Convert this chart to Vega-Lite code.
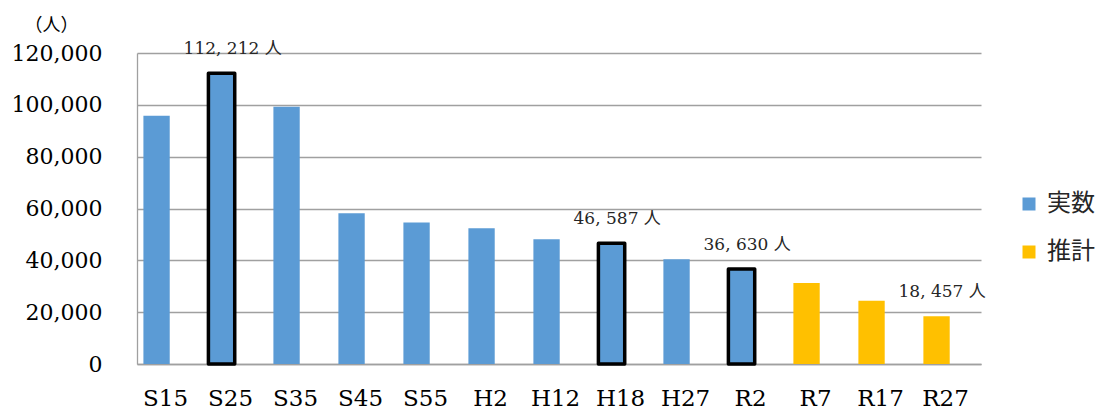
{
  "$schema": "https://vega.github.io/schema/vega-lite/v6.json",
  "autosize": {"type": "none"},
  "width": 844,
  "height": 311,
  "padding": {"left": 137, "top": 53, "right": 119, "bottom": 46},
  "background": "white",
  "config": {"view": {"stroke": null}},
  "data": {
    "values": [
      {"year": "S15", "value": 95800, "type": "実数"},
      {"year": "S25", "value": 112212, "type": "実数", "label": "112, 212 人"},
      {"year": "S35", "value": 99300, "type": "実数"},
      {"year": "S45", "value": 58200, "type": "実数"},
      {"year": "S55", "value": 54600, "type": "実数"},
      {"year": "H2", "value": 52400, "type": "実数"},
      {"year": "H12", "value": 48100, "type": "実数"},
      {"year": "H18", "value": 46587, "type": "実数", "label": "46, 587 人"},
      {"year": "H27", "value": 40400, "type": "実数"},
      {"year": "R2", "value": 36630, "type": "実数", "label": "36, 630 人"},
      {"year": "R7", "value": 31300, "type": "推計"},
      {"year": "R17", "value": 24400, "type": "推計"},
      {"year": "R27", "value": 18457, "type": "推計", "label": "18, 457 人"}
    ]
  },
  "encoding": {
    "x": {
      "field": "year",
      "type": "nominal",
      "sort": null,
      "scale": {"paddingInner": 0.595, "paddingOuter": 0.29, "align": 0.17},
      "axis": {
        "title": null,
        "labelAngle": 0,
        "ticks": false,
        "labelPadding": 41,
        "labelBaseline": "alphabetic",
        "labelOffset": 9,
        "labelFont": "DejaVu Serif",
        "labelFontSize": 23,
        "labelColor": "#000000",
        "domainColor": "#A0A0A0",
        "domainWidth": 1.3,
        "grid": false
      }
    },
    "y": {
      "field": "value",
      "type": "quantitative",
      "scale": {"domain": [0, 120000], "nice": false},
      "axis": {
        "values": [0, 20000, 40000, 60000, 80000, 100000, 120000],
        "format": ",.0f",
        "title": "（人）",
        "titleAngle": 0,
        "titleAlign": "center",
        "titleBaseline": "middle",
        "titleX": -86,
        "titleY": -28,
        "titleFont": "Noto Sans CJK JP",
        "titleFontSize": 18,
        "titleFontWeight": "normal",
        "titleColor": "#000000",
        "ticks": false,
        "labelPadding": 35,
        "labelFont": "DejaVu Serif",
        "labelFontSize": 22,
        "labelColor": "#000000",
        "domainColor": "#A0A0A0",
        "domainWidth": 1.3,
        "grid": true,
        "gridColor": "#A0A0A0",
        "gridWidth": 1.3
      }
    }
  },
  "layer": [
    {
      "mark": {"type": "bar", "strokeJoin": "round"},
      "encoding": {
        "color": {
          "field": "type",
          "type": "nominal",
          "scale": {"domain": ["実数", "推計"], "range": ["#5B9BD5", "#FFC000"]},
          "legend": {
            "title": null,
            "orient": "none",
            "legendX": 880,
            "legendY": 139,
            "padding": 0,
            "symbolType": "square",
            "symbolSize": 169,
            "symbolStrokeWidth": 0,
            "labelFont": "Noto Sans CJK JP",
            "labelFontSize": 24,
            "labelColor": "#262626",
            "labelOffset": 6,
            "rowPadding": 24
          }
        },
        "stroke": {
          "condition": {"test": "indexof(['S25','H18','R2'], datum.year) >= 0", "value": "#000000"},
          "value": null
        },
        "strokeWidth": {
          "condition": {"test": "indexof(['S25','H18','R2'], datum.year) >= 0", "value": 3.5},
          "value": 0
        }
      }
    },
    {
      "transform": [{"filter": "isValid(datum.label)"}],
      "mark": {
        "type": "text",
        "align": "left",
        "baseline": "alphabetic",
        "dx": -38,
        "dy": -19,
        "font": "DejaVu Serif, Noto Sans CJK JP",
        "fontSize": 17,
        "color": "#262626"
      },
      "encoding": {"text": {"field": "label"}}
    }
  ]
}
